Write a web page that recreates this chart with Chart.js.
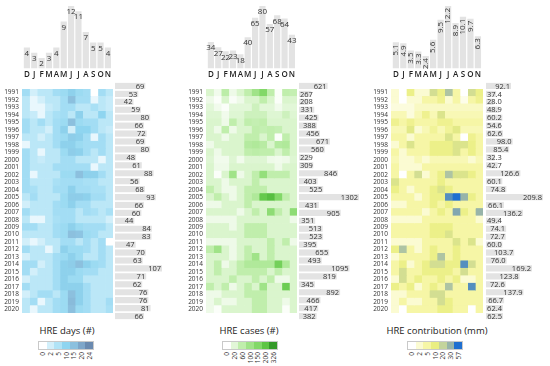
<!DOCTYPE html>
<html>
<head>
<meta charset="utf-8">
<script src="https://cdn.jsdelivr.net/npm/chart.js@4.4.0/dist/chart.umd.min.js"></script>
<style>
body { margin:0; width:550px; height:366px; background:#fff; position:relative; overflow:hidden; font-family:"Open Sans", sans-serif; }
canvas { position:absolute; }
.ttl { position:absolute; top:324px; font-size:9.5px; color:#222; white-space:nowrap; transform:translateX(-50%); }
.lgd { position:absolute; top:342px; height:7px; width:54px; display:flex; outline:1px solid #c9c9c9; }
.lgd div { flex:1; }
.tk { position:absolute; top:352px; font-size:6.5px; line-height:7px; color:#333; writing-mode:vertical-rl; transform:rotate(180deg); }
</style>
</head>
<body>
<script>
var months = ['D','J','F','M','A','M','J','J','A','S','O','N'];
var years = ['1991','1992','1993','1994','1995','1996','1997','1998','1999','2000',
             '2001','2002','2003','2004','2005','2006','2007','2008','2009','2010',
             '2011','2012','2013','2014','2015','2016','2017','2018','2019','2020'];

// monthly means (top bars)
var daysMonthly = [4,3,2,3,4,9,12,11,7,5,5,4];
var casesMonthly = [34,27,22,23,18,40,65,80,57,68,64,43];
var contribMonthly = [5.1,4.9,3.5,3.3,2.4,5.6,9.5,12.2,8.9,10.1,9.7,6.3];

// yearly totals (right bars)
var daysYearly = [69,53,42,59,80,66,72,69,80,48,61,88,56,68,93,66,60,44,84,83,47,70,63,107,71,62,76,76,81,66];
var casesYearly = [621,267,208,331,425,388,456,671,560,229,309,846,403,525,1302,431,905,351,513,523,395,655,493,1095,819,345,892,466,417,382];
var contribYearly = [92.1,37.4,28.0,48.9,60.2,54.6,62.6,98.0,85.4,32.3,42.7,126.6,60.1,74.8,209.8,66.1,136.2,49.4,74.1,72.7,60.0,103.7,76.0,169.2,123.8,72.6,137.9,66.7,62.4,62.5];

// colour scale ticks
var daysTicks = [0,2,5,10,15,20,24];
var casesTicks = [0,20,60,100,150,200,326];
var contribTicks = [0,2,5,10,20,30,57];

// year x month cells
var daysGrid = [
  [7,2,4,4,7,8,11,8,7,0,7,4],
  [4,1,2,4,4,7,15,7,7,1,4,3],
  [4,1,1,3,4,7,7,4,4,6,4,3],
  [4,3,1,4,6,7,4,11,4,4,10,4],
  [7,4,7,4,7,8,15,8,7,7,4,4],
  [7,4,4,2,7,11,2,10,10,7,4,3],
  [4,4,2,4,7,8,12,11,7,1,7,4],
  [1,4,4,4,7,11,11,8,7,7,7,4],
  [7,4,1,4,4,8,12,11,7,4,7,4],
  [7,4,3,4,4,7,7,4,4,4,1,4],
  [7,4,4,4,7,7,7,7,7,1,4,4],
  [7,1,4,4,4,8,8,15,11,11,7,4],
  [7,4,4,4,6,7,7,7,6,6,4,4],
  [7,6,4,4,7,7,11,7,7,6,6,4],
  [4,7,4,4,4,8,12,12,11,7,7,4],
  [2,4,4,4,7,8,11,7,7,4,4,4],
  [7,4,4,4,7,7,7,4,7,6,4,6],
  [4,1,1,4,6,7,7,4,4,4,4,2],
  [7,7,4,4,7,8,11,8,7,7,7,4],
  [4,4,4,4,7,8,15,14,8,7,4,4],
  [2,1,2,4,4,7,7,4,7,4,7,0],
  [7,4,4,1,4,11,8,8,7,4,7,4],
  [2,4,4,4,7,8,11,8,4,4,7,4],
  [7,7,2,4,7,11,12,15,11,8,7,4],
  [7,2,4,4,7,11,11,8,7,7,4,4],
  [2,4,4,4,7,11,8,8,4,4,4,4],
  [7,4,4,4,7,11,11,11,7,4,4,4],
  [2,4,7,7,4,8,15,11,7,4,4,4],
  [4,7,1,4,7,8,16,11,7,4,4,7],
  [4,1,4,4,7,8,15,8,7,4,4,6]
];
var casesGrid = [
  [30,10,65,12,30,60,100,150,60,3,60,55],
  [12,3,30,4,12,30,30,60,30,3,30,28],
  [20,10,3,20,20,20,45,20,20,10,20,20],
  [25,25,10,25,25,45,45,45,25,25,45,25],
  [30,30,12,60,30,60,55,60,30,30,30,30],
  [30,12,60,12,30,30,60,55,60,55,30,30],
  [30,30,12,30,30,60,60,30,60,3,60,30],
  [12,30,30,30,30,75,80,70,30,75,80,30],
  [30,12,30,30,30,60,65,60,60,30,60,30],
  [25,10,10,25,10,25,25,25,12,10,12,25],
  [30,12,12,30,30,30,30,30,30,12,30,30],
  [30,3,30,100,12,30,60,120,60,60,60,30],
  [30,30,12,30,30,30,60,30,30,30,30,30],
  [60,30,12,12,30,60,60,60,30,30,30,30],
  [30,60,30,12,30,60,80,190,220,150,60,30],
  [12,12,30,30,30,60,30,30,30,30,30,30],
  [30,30,30,30,12,30,60,30,130,60,30,130],
  [12,12,12,12,30,30,30,30,30,30,30,12],
  [30,30,30,12,30,60,60,60,30,30,30,30],
  [30,30,30,30,30,60,60,60,30,30,30,30],
  [12,12,12,12,30,30,30,30,60,30,60,12],
  [60,100,30,12,30,60,30,30,60,30,30,30],
  [30,30,30,12,30,60,100,30,60,30,30,30],
  [30,60,12,30,60,80,80,80,80,170,80,30],
  [30,60,30,30,60,60,60,60,30,60,30,30],
  [30,30,30,60,30,30,60,30,60,12,12,30],
  [60,30,60,12,30,60,30,100,30,30,180,30],
  [12,12,30,30,30,60,60,60,30,30,30,30],
  [12,30,12,12,30,30,60,60,30,30,12,30],
  [12,3,30,30,30,30,60,60,30,30,3,30]
];
var contribGrid = [
  [2,0,9,2,2,16,9,25,5,0,16,9],
  [2,0,2,2,5,5,8,2,5,1,5,8],
  [1.5,1.5,1.5,3,3,3,3,3,3,3,3,3],
  [4,4,1.5,4,8,4,14,4,4,4,4,4],
  [8,5,8,5,5,5,8,8,5,5,5,5],
  [4,4,12,2,4,7,4,7,12,4,4,4],
  [5,5,2,5,5,5,5,14,5,0,8,5],
  [2,5,14,5,5,9,9,9,14,14,9,5],
  [5,2,5,5,5,9,9,9,14,5,9,5],
  [4,2,2,4,2,4,4,4,4,4,2,4],
  [5,2,2,2,5,5,5,5,5,5,5,5],
  [5,0,5,16,2,5,9,25,14,14,9,5],
  [14,5,5,5,5,5,9,5,5,5,5,5],
  [9,5,2,5,5,9,14,9,5,5,5,5],
  [5,5,5,2,5,9,9,45,57,30,9,5],
  [2,2,5,5,5,9,5,9,5,5,5,5],
  [5,5,5,5,2,5,9,5,35,9,5,30],
  [2,2,2,2,5,5,5,5,5,5,5,2],
  [5,5,5,5,5,9,9,9,5,5,5,5],
  [5,5,5,5,5,9,9,14,5,5,5,5],
  [2,2,2,2,5,5,5,5,14,5,14,2],
  [9,25,5,2,5,9,5,5,9,5,5,5],
  [2,5,5,5,5,9,25,5,9,5,5,5],
  [5,9,2,5,9,16,16,9,9,45,16,5],
  [5,16,5,5,9,9,9,9,5,16,5,5],
  [2,16,5,9,5,5,9,5,9,2,2,5],
  [9,5,9,2,5,9,5,25,5,5,45,5],
  [2,2,5,5,5,16,16,5,5,5,5,5],
  [2,5,2,2,5,5,16,9,5,5,5,5],
  [2,0,5,5,5,5,9,9,5,5,0,5]
];

var panels = [
  { monthly: daysMonthly, yearly: daysYearly, grid: daysGrid, ticks: daysTicks, title: 'HRE days (#)',
    colors: ['#ffffff','#d2effa','#b0e3f6','#8fd5f0','#8cc0de','#7ea6c9','#6a8ab0'],
    heatL: 22, heatR: 113, barL: 115, barR: 162, dec: 0, rot: false, titleX: 67, lgdL: 39 },
  { monthly: casesMonthly, yearly: casesYearly, grid: casesGrid, ticks: casesTicks, title: 'HRE cases (#)',
    colors: ['#ffffff','#e2f7d8','#c0eeac','#a0e388','#82d868','#5ec545','#35992a'],
    heatL: 206, heatR: 297, barL: 299, barR: 359, dec: 0, rot: false, titleX: 249, lgdL: 223 },
  { monthly: contribMonthly, yearly: contribYearly, grid: contribGrid, ticks: contribTicks, title: 'HRE contribution (mm)',
    colors: ['#ffffff','#fbfbd2','#f6f6a6','#eaee82','#c4d49c','#97b4a9','#1f6fd0'],
    heatL: 391, heatR: 483, barL: 486, barR: 543, dec: 1, rot: true, titleX: 437, lgdL: 408 }
];

var FONT = 'Open Sans';

function rgb(h) {
  return [parseInt(h.substr(1,2),16), parseInt(h.substr(3,2),16), parseInt(h.substr(5,2),16)];
}
function cellColor(v, stops, cols) {
  if (v <= stops[0]) return cols[0];
  for (var i = 0; i < stops.length - 1; i++) {
    if (v <= stops[i+1]) {
      var t = (v - stops[i]) / (stops[i+1] - stops[i]);
      var a = rgb(cols[i]), b = rgb(cols[i+1]);
      return 'rgb(' + Math.round(a[0]+(b[0]-a[0])*t) + ',' + Math.round(a[1]+(b[1]-a[1])*t) + ',' + Math.round(a[2]+(b[2]-a[2])*t) + ')';
    }
  }
  return cols[cols.length-1];
}

function makeCanvas(l, t, w, h) {
  var c = document.createElement('canvas');
  c.width = w; c.height = h;
  c.style.left = l + 'px'; c.style.top = t + 'px';
  c.style.width = w + 'px'; c.style.height = h + 'px';
  document.body.appendChild(c);
  return c;
}

// writes the value of each bar at its end
function barLabels(id, dec, rot, vertical) {
  return {
    id: id,
    afterDatasetsDraw: function(chart) {
      var ctx = chart.ctx;
      var meta = chart.getDatasetMeta(0);
      var vals = chart.data.datasets[0].data;
      ctx.save();
      ctx.fillStyle = '#333';
      ctx.font = (vertical ? '8px "' : '7.5px "') + FONT + '"';
      meta.data.forEach(function(el, i) {
        var txt = vals[i].toFixed(dec);
        if (vertical && rot) {
          ctx.save();
          ctx.translate(el.x, el.y + 2);
          ctx.rotate(-Math.PI / 2);
          ctx.textAlign = 'right'; ctx.textBaseline = 'middle';
          ctx.fillText(txt, 0, 0);
          ctx.restore();
        } else if (vertical) {
          ctx.textAlign = 'center'; ctx.textBaseline = 'middle';
          ctx.fillText(txt, el.x, el.y + 6);
        } else {
          var w = ctx.measureText(txt).width;
          var x = Math.max(el.x - 1, el.base + 1 + w);
          ctx.textAlign = 'right'; ctx.textBaseline = 'middle';
          ctx.fillText(txt, x, el.y + 0.5);
        }
      });
      ctx.restore();
    }
  };
}

var common = {
  responsive: false, animation: false, devicePixelRatio: 1,
  plugins: { legend: { display: false }, tooltip: { enabled: false } }
};

panels.forEach(function(p, n) {
  var hw = p.heatR - p.heatL;

  // top: monthly means
  new Chart(makeCanvas(p.heatL, 0, hw, 82), {
    type: 'bar',
    data: { labels: months, datasets: [{ data: p.monthly, backgroundColor: '#e3e3e3', barPercentage: 0.84, categoryPercentage: 1 }] },
    options: Object.assign({}, common, {
      layout: { padding: { top: 6, left: 0, right: 0, bottom: 0 } },
      scales: {
        x: { grid: { display: false, drawTicks: false }, border: { display: false },
             ticks: { font: { family: FONT, size: 8, weight: '600' }, color: '#222', padding: 2, maxRotation: 0, autoSkip: false } },
        y: { display: false, min: 0, max: Math.max.apply(null, p.monthly) }
      }
    }),
    plugins: [barLabels('topLabels' + n, p.dec, p.rot, true)]
  });

  // heatmap: one floating bar per month and year
  new Chart(makeCanvas(p.heatL - 24, 82, hw + 24, 238), {
    type: 'bar',
    data: {
      labels: years,
      datasets: months.map(function(m, j) {
        return {
          data: years.map(function() { return [j, j + 1]; }),
          backgroundColor: function(c) { return cellColor(p.grid[c.dataIndex][j], p.ticks, p.colors); },
          barPercentage: 1, categoryPercentage: 1, borderWidth: 0, grouped: false
        };
      })
    },
    options: Object.assign({}, common, {
      indexAxis: 'y',
      layout: { padding: 0 },
      scales: {
        x: { type: 'linear', min: 0, max: 12, display: false },
        y: { grid: { display: false, drawTicks: false }, border: { display: false },
             ticks: { font: { family: FONT, size: 6.5 }, color: '#333', padding: 3, autoSkip: false },
             afterFit: function(s) { s.width = 24; } }
      }
    })
  });

  // right: yearly totals
  new Chart(makeCanvas(p.barL, 82, p.barR - p.barL, 238), {
    type: 'bar',
    data: { labels: years, datasets: [{ data: p.yearly, backgroundColor: '#e3e3e3', barPercentage: 0.78, categoryPercentage: 1 }] },
    options: Object.assign({}, common, {
      indexAxis: 'y',
      layout: { padding: 0 },
      scales: {
        x: { display: false, min: 0, max: Math.max.apply(null, p.yearly) },
        y: { display: false }
      }
    }),
    plugins: [barLabels('sideLabels' + n, p.dec, false, false)]
  });

  // colour legend
  var t = document.createElement('div');
  t.className = 'ttl'; t.style.left = p.titleX + 'px'; t.textContent = p.title;
  document.body.appendChild(t);
  var lg = document.createElement('div');
  lg.className = 'lgd'; lg.style.left = p.lgdL + 'px';
  p.colors.forEach(function(c) { var s = document.createElement('div'); s.style.background = c; lg.appendChild(s); });
  document.body.appendChild(lg);
  p.ticks.forEach(function(v, i) {
    var k = document.createElement('div');
    k.className = 'tk'; k.textContent = v;
    k.style.left = (p.lgdL + (i + 0.5) * 54 / 7 - 3.5) + 'px';
    document.body.appendChild(k);
  });
});
</script>
</body>
</html>
